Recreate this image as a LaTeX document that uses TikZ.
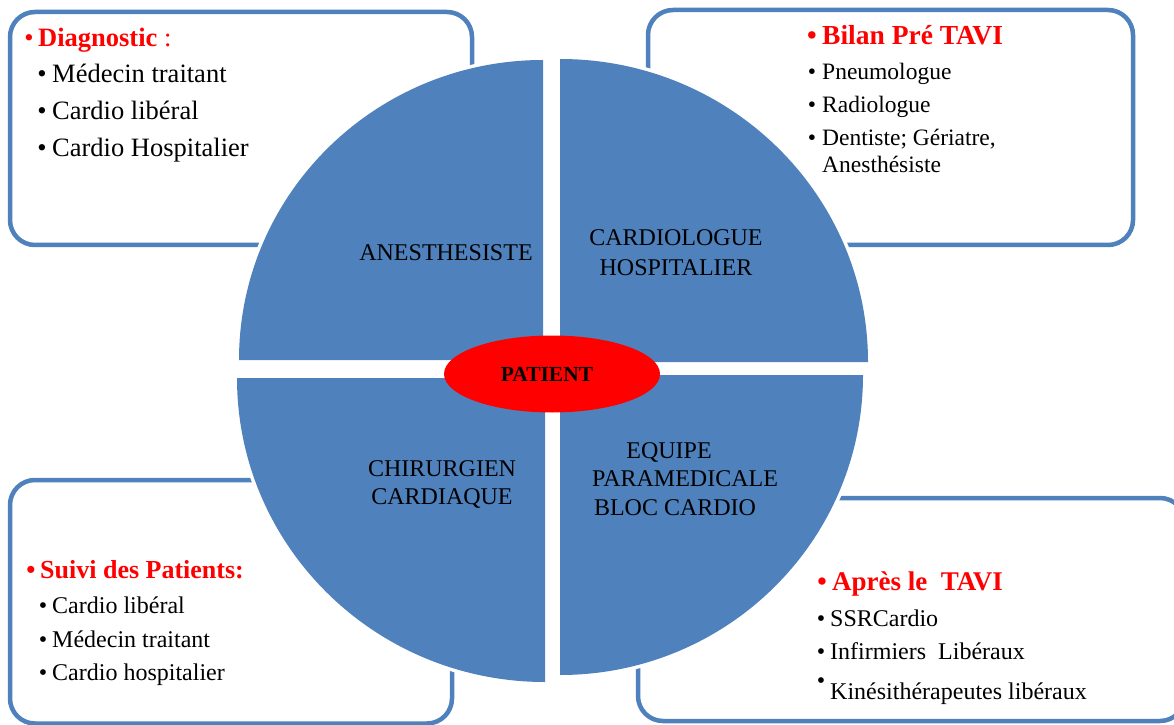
\documentclass[tikz,border=0pt]{standalone}
\usepackage{fontspec}
\setmainfont{Liberation Serif}
\usetikzlibrary{shapes.geometric}
\definecolor{qblue}{HTML}{4F81BD}
\definecolor{qred}{HTML}{FF0000}
\begin{document}
\begin{tikzpicture}[x=1pt,y=1pt,
  box/.style={draw=qblue, line width=4.5pt, rounded corners=25pt},
  quad/.style={fill=qblue, preaction={draw=white, line width=7pt}},
  txt/.style={anchor=base west, inner sep=0pt},
  bul/.style={anchor=base, inner sep=0pt},
  lab/.style={anchor=base, inner sep=0pt, font=\fontsize{24}{28}\selectfont},
  fA/.style={font=\fontsize{26.5}{30}\selectfont},
  fB/.style={font=\fontsize{23.5}{28}\selectfont},
  fD/.style={font=\fontsize{24}{28}\selectfont},
  fC/.style={font=\fontsize{24}{28}\selectfont},
  hA/.style={text=qred, font=\fontsize{27.5}{30}\selectfont\bfseries},
  hB/.style={text=qred, font=\fontsize{26}{28}\selectfont\bfseries},
  hC/.style={text=qred, font=\fontsize{27}{30}\selectfont\bfseries}]
\useasboundingbox (0,0) rectangle (1174,724);
\clip (0,0) rectangle (1174,724);
\fill[white] (0,0) rectangle (1174,724);

% boxes
\draw[box] (10,479) rectangle (472,712);
\draw[box] (648,479) rectangle (1133,714);
\draw[box] (10,0.5) rectangle (452,244);
\draw[box] (638,3) rectangle (1185,226);

% quadrants
\path[quad] (543,364) -- (239,364) arc[start angle=180,end angle=90,x radius=304pt,y radius=300pt] -- cycle;
\path[quad] (560,362) -- (868,362) arc[start angle=0,end angle=90,x radius=308pt,y radius=303pt] -- cycle;
\path[quad] (545,346) -- (237,346) arc[start angle=180,end angle=270,x radius=308pt,y radius=304pt] -- cycle;
\path[quad] (560,349) -- (863,349) arc[start angle=0,end angle=-90,x radius=303pt,y radius=300pt] -- cycle;

% centre
\node (ell) [ellipse, fill=qred, minimum width=216pt, minimum height=77pt, inner sep=0pt] at (552,350) {};
\node (pat) [inner sep=0pt, font=\fontsize{21.5}{24}\selectfont\bfseries] at (547,350) {PATIENT};

% quadrant labels
\node (l1) [lab] at (446,464) {ANESTHESISTE};
\node (l2) [lab] at (676,478) {CARDIOLOGUE};
\node (l3) [lab] at (676,449) {HOSPITALIER};
\node (l4) [lab] at (442,248) {CHIRURGIEN};
\node (l5) [lab] at (442,220) {CARDIAQUE};
\node (l6) [lab] at (669,266) {EQUIPE};
\node (l7) [lab] at (685,238) {PARAMEDICALE};
\node (l8) [lab] at (675,209) {BLOC CARDIO};

% top-left box
\node (a0b) [bul, text=qred, fA] at (29,677) {\textbullet};
\node (a0) [txt, text=qred, fA] at (38,677) {\textbf{Diagnostic} :};
\node (a1b) [bul, fA] at (42,641) {\textbullet};
\node (a1) [txt, fA] at (52,641) {Médecin traitant};
\node (a2b) [bul, fA] at (42,604) {\textbullet};
\node (a2) [txt, fA] at (52,604) {Cardio libéral};
\node (a3b) [bul, fA] at (42,567) {\textbullet};
\node (a3) [txt, fA] at (52,567) {Cardio Hospitalier};

% top-right box
\node (b0b) [bul, hA] at (812,679) {\textbullet};
\node (b0) [txt, hA] at (822,679) {Bilan Pré TAVI};
\node (b1b) [bul, fB] at (812,644) {\textbullet};
\node (b1) [txt, fB] at (822,644) {Pneumologue};
\node (b2b) [bul, fB] at (812,611) {\textbullet};
\node (b2) [txt, fB] at (822,611) {Radiologue};
\node (b3b) [bul, fB] at (812,578) {\textbullet};
\node (b3) [txt, fB] at (822,578) {Dentiste; Gériatre,};
\node (b4) [txt, fB] at (822,551) {Anesthésiste};

% bottom-left box
\node (c0b) [bul, hB] at (31,146) {\textbullet};
\node (c0) [txt, hB] at (40,146) {Suivi des Patients:};
\node (c1b) [bul, fD] at (43,111) {\textbullet};
\node (c1) [txt, fD] at (52,111) {Cardio libéral};
\node (c2b) [bul, fD] at (43,77) {\textbullet};
\node (c2) [txt, fD] at (52,77) {Médecin traitant};
\node (c3b) [bul, fD] at (43,44) {\textbullet};
\node (c3) [txt, fD] at (52,44) {Cardio hospitalier};

% bottom-right box
\node (d0b) [bul, hC] at (822,134) {\textbullet};
\node (d0) [txt, hC] at (832,134) {Après le\ \ TAVI};
\node (d1b) [bul, fC] at (821,98) {\textbullet};
\node (d1) [txt, fC] at (830,98) {SSRCardio};
\node (d2b) [bul, fC] at (821,65) {\textbullet};
\node (d2) [txt, fC] at (830,65) {Infirmiers\ \ Libéraux};
\node (d3b) [bul, fC] at (821,36) {\textbullet};
\node (d3) [txt, fC] at (830,25) {Kinésithérapeutes libéraux};
\end{tikzpicture}
\end{document}
